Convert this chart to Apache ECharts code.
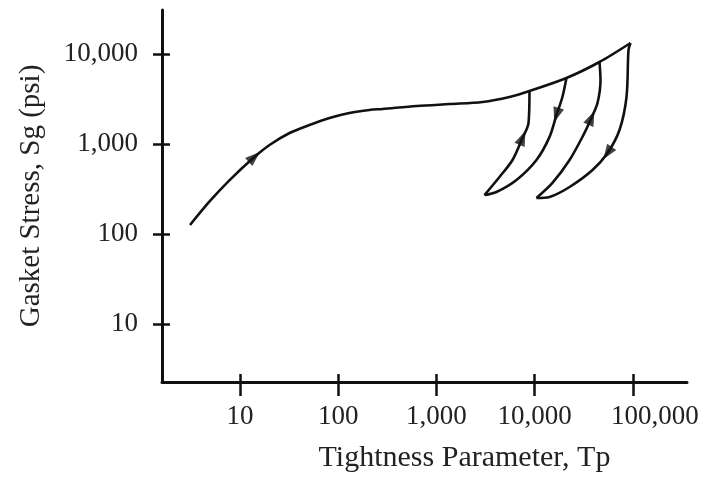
<!DOCTYPE html>
<html>
<head>
<meta charset="utf-8">
<script src="https://cdn.jsdelivr.net/npm/echarts@6/dist/echarts.min.js"></script>
<style>
  html, body { margin: 0; padding: 0; background: #fff; }
  #main { width: 711px; height: 485px; }
</style>
</head>
<body>
<div id="main"></div>
<script>
// tick values on both axes
const tpTicks = [10, 100, 1000, 10000, 100000];
const sgTicks = [10, 100, 1000, 10000];

// initial loading curve (Tp, Sg)
const mainTp = [3.1, 4.9, 7.8, 14, 20, 32, 51, 81.5, 130, 208, 282, 630, 1360, 2950, 5550, 8870, 21100, 45800, 94800];
const mainSg = [126, 230, 395, 717, 975, 1325, 1626, 1945, 2210, 2390, 2450, 2640, 2780, 2930, 3330, 3880, 5410, 8150, 13250];

// first unload / reload loop
const loop1UpTp = [3090, 4390, 5960, 7530, 8670, 8870];
const loop1UpSg = [271, 430, 664, 1170, 1710, 3880];
const loop1DownTp = [21100, 19200, 16700, 14200, 10450, 6540, 4090, 3090];
const loop1DownSg = [5410, 3330, 2100, 1200, 664, 398, 293, 271];

// second unload / reload loop
const loop2UpTp = [10450, 15200, 22700, 30700, 37900, 43700, 46900, 45800];
const loop2UpSg = [251, 369, 664, 1200, 1950, 2850, 5140, 8150];
const loop2DownTp = [94800, 90400, 86300, 73200, 55300, 38900, 22700, 14200, 10450];
const loop2DownSg = [13250, 11080, 3330, 1430, 794, 514, 333, 258, 251];

// direction arrows on the curves
const arrowTp = [14, 7530, 16700, 37900, 55300];
const arrowSg = [717, 1170, 2100, 1950, 794];
const arrowRotate = [-48, -23, 162, -24, 146];

const FONT = 'Liberation Serif';
const INK = '#111';
const TEXT = '#222';

function pairs(xs, ys) {
    return xs.map((x, i) => [x, ys[i]]);
}

function fmt(v) {
    return Math.round(v).toLocaleString('en-US');
}

function curve(name, xs, ys) {
    return {
        name: name,
        type: 'line',
        data: pairs(xs, ys),
        showSymbol: false,
        smooth: 0.3,
        lineStyle: { color: INK, width: 2.6 },
        z: 3
    };
}

const xRange = { min: 1.607, max: 356400 };
const yRange = { min: 2.268, max: 30830 };

const option = {
    animation: false,
    backgroundColor: '#fff',
    grid: { left: 162, top: 10, width: 525, height: 372 },
    xAxis: [{
        type: 'log',
        position: 'bottom',
        min: xRange.min,
        max: xRange.max,
        name: 'Tightness Parameter, Tp',
        nameLocation: 'middle',
        nameGap: 61,
        nameTextStyle: { fontFamily: FONT, fontSize: 30, color: TEXT, padding: [0, 0, 0, 80] },
        axisLine: { lineStyle: { color: INK, width: 3 } },
        axisTick: { customValues: tpTicks, length: 14, lineStyle: { color: INK, width: 2.5 } },
        axisLabel: {
            customValues: tpTicks,
            margin: 21,
            fontFamily: FONT,
            fontSize: 27,
            color: TEXT,
            formatter: v => (Math.round(v) === 100000 ? '{shift|100,000}' : fmt(v)),
            rich: { shift: { fontFamily: FONT, fontSize: 27, color: TEXT, padding: [0, 0, 0, 44] } }
        },
        splitLine: { show: false }
    }, {
        // inward half of the crossing ticks
        type: 'log',
        position: 'bottom',
        min: xRange.min,
        max: xRange.max,
        axisLine: { show: false },
        axisTick: { inside: true, customValues: tpTicks, length: 8, lineStyle: { color: INK, width: 2.5 } },
        axisLabel: { show: false },
        splitLine: { show: false }
    }],
    yAxis: [{
        type: 'log',
        position: 'left',
        min: yRange.min,
        max: yRange.max,
        name: 'Gasket Stress, Sg (psi)',
        nameLocation: 'middle',
        nameGap: 116,
        nameTextStyle: { fontFamily: FONT, fontSize: 29, color: TEXT },
        axisLine: { lineStyle: { color: INK, width: 3 } },
        axisTick: { customValues: sgTicks, length: 9, lineStyle: { color: INK, width: 2.5 } },
        axisLabel: {
            customValues: sgTicks,
            margin: 24,
            fontFamily: FONT,
            fontSize: 27,
            color: TEXT,
            formatter: fmt
        },
        splitLine: { show: false }
    }, {
        type: 'log',
        position: 'left',
        min: yRange.min,
        max: yRange.max,
        axisLine: { show: false },
        axisTick: { inside: true, customValues: sgTicks, length: 8, lineStyle: { color: INK, width: 2.5 } },
        axisLabel: { show: false },
        splitLine: { show: false }
    }],
    series: [
        curve('loading', mainTp, mainSg),
        curve('reload 1', loop1UpTp, loop1UpSg),
        curve('unload 1', loop1DownTp, loop1DownSg),
        curve('reload 2', loop2UpTp, loop2UpSg),
        curve('unload 2', loop2DownTp, loop2DownSg),
        {
            name: 'arrows',
            type: 'scatter',
            data: arrowTp.map((x, i) => ({ value: [x, arrowSg[i]], symbolRotate: arrowRotate[i] })),
            symbol: 'triangle',
            symbolSize: [11, 15],
            itemStyle: { color: INK },
            z: 4
        }
    ]
};

let chart = echarts.init(document.querySelector('#main'));
chart.setOption(option);
</script>
</body>
</html>
